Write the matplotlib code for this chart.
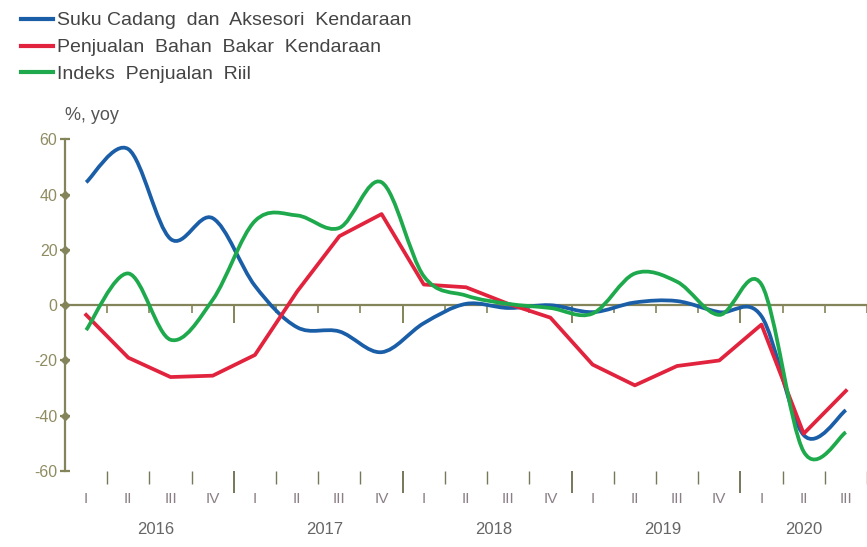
import numpy as np
import matplotlib
matplotlib.use('Agg')
from matplotlib import pyplot as plt
from matplotlib.path import Path
from matplotlib.patches import PathPatch
from matplotlib.lines import Line2D

plt.rcParams['font.family'] = ['Liberation Sans', 'DejaVu Sans']
plt.rcParams['axes.unicode_minus'] = False

# data (quarterly, % yoy), 2016 Q1 .. 2020 Q3
quarters = ['I', 'II', 'III', 'IV'] * 4 + ['I', 'II', 'III']
years = ['2016', '2017', '2018', '2019', '2020']
suku_cadang = [44.5, 56.5, 24, 31.5, 7, -8, -9.5, -17, -6.5, 0.5, -1, 0,
               -2.5, 1, 1.5, -2.5, -4, -47, -38]
bahan_bakar = [-3.5, -19, -26, -25.5, -18, 5, 25, 33, 7.5, 6.5, 0.5, -4.5,
               -21.5, -29, -22, -20, -7, -46.5, -31]
penjualan_riil = [-9, 11.5, -12.5, 2, 30.5, 32.5, 28, 44.5, 10.5, 3.5, 0.5, -1,
                  -3, 11.5, 8.5, -3.5, 7.5, -53, -46]

BLUE = '#1b5ea8'
RED = '#e2233d'
GREEN = '#1eaa4c'
OLIVE = '#84845a'
LW = 2.7


def smooth_path(x, y):
    # cardinal (catmull-rom) bezier through the points, like excel smoothed lines
    pts = np.column_stack([x, y]).astype(float)
    p = np.vstack([pts[0], pts, pts[-1]])
    verts = [pts[0]]
    codes = [Path.MOVETO]
    for k in range(1, len(p) - 2):
        c1 = p[k] + (p[k + 1] - p[k - 1]) / 6
        c2 = p[k + 1] - (p[k + 2] - p[k]) / 6
        verts += [c1, c2, p[k + 1]]
        codes += [Path.CURVE4] * 3
    return Path(verts, codes)


x = np.arange(len(quarters))
major_pos = [3.5, 7.5, 11.5, 15.5]
minor_pos = [q + 0.5 for q in x[:-1] if (q + 1) % 4 != 0] + [18.5]

fig = plt.figure(figsize=(8.67, 5.47), dpi=100)
ax = fig.add_axes([0.075, 0.139, 0.925, 0.606])

ax.add_patch(PathPatch(smooth_path(x, suku_cadang), fill=False, ec=BLUE, lw=LW,
                       capstyle='butt', zorder=3))
ax.plot(x, bahan_bakar, color=RED, lw=LW, solid_joinstyle='round', zorder=3)
ax.add_patch(PathPatch(smooth_path(x, penjualan_riil), fill=False, ec=GREEN, lw=LW,
                       capstyle='butt', zorder=4))

ax.set_xlim(-0.5, len(quarters) - 0.5)
ax.set_ylim(-60, 60)

# y axis
for s in ['top', 'right', 'bottom']:
    ax.spines[s].set_visible(False)
ax.spines['left'].set_color(OLIVE)
ax.spines['left'].set_linewidth(1.6)
yt = np.arange(-60, 61, 20)
ax.set_yticks(yt)
ax.tick_params(axis='y', direction='inout', length=7, width=1.6, color=OLIVE,
               labelcolor='#8f8c62', labelsize=11.5, pad=2)
ax.plot(np.zeros(len(yt) - 2), yt[1:-1], transform=ax.get_yaxis_transform(),
        marker='D', ms=4.5, color=OLIVE, ls='none', clip_on=False, zorder=5)

# bottom ticks (quarter separators)
ax.set_xticks(major_pos)
ax.set_xticks(minor_pos, minor=True)
ax.tick_params(axis='x', which='major', direction='out', length=16, width=1.4,
               color='#77775a', labelbottom=False)
ax.tick_params(axis='x', which='minor', direction='out', length=9, width=1,
               color='#77775a', labelbottom=False)

# zero line with ticks
zero = ax.secondary_xaxis(0.5)
zero.set_alignment('bottom')
zero.spines['bottom'].set_color(OLIVE)
zero.spines['bottom'].set_linewidth(1.6)
zero.set_xticks(major_pos)
zero.set_xticks(minor_pos, minor=True)
zero.tick_params(axis='x', which='both', direction='out', color=OLIVE,
                 labelbottom=False, labeltop=False, top=False, bottom=True)
zero.tick_params(axis='x', which='major', length=13, width=1.4)
zero.tick_params(axis='x', which='minor', length=6, width=1.2)

trans = ax.get_xaxis_transform()
for i, q in enumerate(quarters):
    ax.text(i, -0.085, q, transform=trans, ha='center', va='center',
            fontsize=11, color='#8a7f86')
for k, yr in enumerate(years):
    xc = 4 * k + 1.65 if k < 4 else 17
    ax.text(xc, -0.178, yr, transform=trans, ha='center', va='center',
            fontsize=12, color='#666666')

fig.text(0.075, 0.789, '%, yoy', fontsize=13, color='#555555', ha='left', va='center')

handles = [Line2D([], [], color=BLUE, lw=3),
           Line2D([], [], color=RED, lw=3),
           Line2D([], [], color=GREEN, lw=3)]
labels = ['Suku Cadang  dan  Aksesori  Kendaraan',
          'Penjualan  Bahan  Bakar  Kendaraan',
          'Indeks  Penjualan  Riil']
fig.legend(handles, labels, loc='upper left', bbox_to_anchor=(0.012, 0.998),
           frameon=False, fontsize=14, handlelength=1.65, handletextpad=0.22,
           labelspacing=0.48, labelcolor='#444444', borderaxespad=0.15)

plt.savefig('out.png', dpi=100)
